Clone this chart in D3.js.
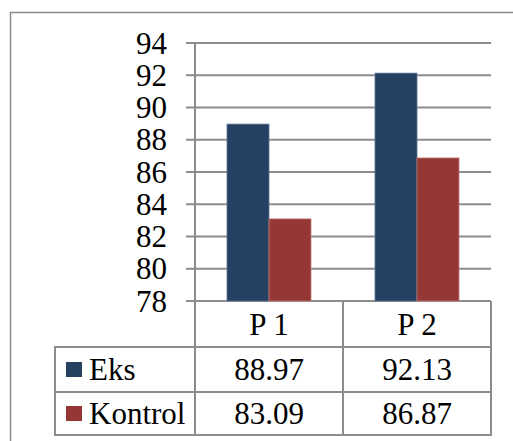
<!DOCTYPE html>
<html>
<head>
<meta charset="utf-8">
<script src="https://cdn.jsdelivr.net/npm/d3@7"></script>
</head>
<body style="margin:0">
<svg id="chart" width="513" height="441"></svg>
<script>
// Chart data
const categories = ["P 1", "P 2"];
const seriesNames = ["Eks", "Kontrol"];
const eksValues = [88.97, 92.13];
const kontrolValues = [83.09, 86.87];
const yTicks = [78, 80, 82, 84, 86, 88, 90, 92, 94];
const seriesColors = ["#264061", "#953735"];
const seriesEdges = ["#5a7396", "#c27a78"];

const series = [eksValues, kontrolValues];

const svg = d3.select("#chart");
const gridColor = "#8c8c8c";

// Layout
const plotLeft = 195, plotRight = 491, plotTop = 43, plotBottom = 301;
const rowBottoms = [347, 392, 435];
const legendLeft = 55;

// Outer frame (runs past the window on the right and bottom)
svg.append("rect")
  .attr("x", 10.5).attr("y", 12.5)
  .attr("width", 600).attr("height", 500)
  .attr("fill", "none")
  .attr("stroke", "#8a8a8a")
  .attr("stroke-width", 1.5);

const y = d3.scaleLinear().domain([78, 94]).range([plotBottom, plotTop]);
const x = d3.scaleBand().domain(categories).range([plotLeft, plotRight]).padding(0);
const xs = d3.scaleBand().domain(seriesNames)
  .range([32, x.bandwidth() - 32]).padding(0);

// Gridlines with tick marks to the left of the axis
svg.append("g")
  .selectAll("line")
  .data(yTicks)
  .join("line")
  .attr("x1", plotLeft - 9).attr("x2", plotRight)
  .attr("y1", d => y(d)).attr("y2", d => y(d))
  .attr("stroke", gridColor)
  .attr("stroke-width", 2);

// All labels: serif face, 31px
const labels = svg.append("g");

function addLabel(tx, ty, str, anchor) {
  labels.append("text")
    .attr("x", tx).attr("y", ty)
    .attr("dy", "0.34em")
    .attr("text-anchor", anchor)
    .style("font-family", "Times New Roman")
    .style("font-size", "31px")
    .text(str);
}

// Y tick labels
yTicks.forEach(t => addLabel(167, y(t), String(t), "end"));

// Bars
const barGroups = svg.append("g")
  .selectAll("g")
  .data(seriesNames)
  .join("g");

barGroups.selectAll("rect")
  .data((name, i) => categories.map((c, j) => ({ c, name, i, v: series[i][j] })))
  .join("rect")
  .attr("x", d => x(d.c) + xs(d.name))
  .attr("y", d => y(d.v))
  .attr("width", xs.bandwidth())
  .attr("height", d => y(78) - y(d.v))
  .attr("fill", d => seriesColors[d.i])
  .attr("stroke", d => seriesEdges[d.i])
  .attr("stroke-width", 0.8);

// Data table lines
const tbl = svg.append("g").attr("stroke", gridColor).attr("stroke-width", 2);
[plotLeft, x("P 2"), plotRight].forEach(xv => {
  tbl.append("line")
    .attr("x1", xv).attr("x2", xv)
    .attr("y1", xv === plotLeft ? plotTop : plotBottom)
    .attr("y2", rowBottoms[2] + 1);
});
tbl.append("line")
  .attr("x1", legendLeft).attr("x2", legendLeft)
  .attr("y1", rowBottoms[0]).attr("y2", rowBottoms[2] + 1);
rowBottoms.forEach(yv => {
  tbl.append("line")
    .attr("x1", legendLeft - 1).attr("x2", plotRight + 1)
    .attr("y1", yv).attr("y2", yv);
});

// Header row: category labels
categories.forEach(c => addLabel(x(c) + x.bandwidth() / 2, (plotBottom + rowBottoms[0]) / 2, c, "middle"));

// Value rows with legend keys
seriesNames.forEach((name, i) => {
  const mid = (rowBottoms[i] + rowBottoms[i + 1]) / 2;
  svg.append("rect")
    .attr("x", 66).attr("y", mid - 7.5)
    .attr("width", 16).attr("height", 15)
    .attr("fill", seriesColors[i]);
  addLabel(89, mid, name, "start");
  categories.forEach((c, j) => addLabel(x(c) + x.bandwidth() / 2, mid, series[i][j].toFixed(2), "middle"));
});
</script>
</body>
</html>
